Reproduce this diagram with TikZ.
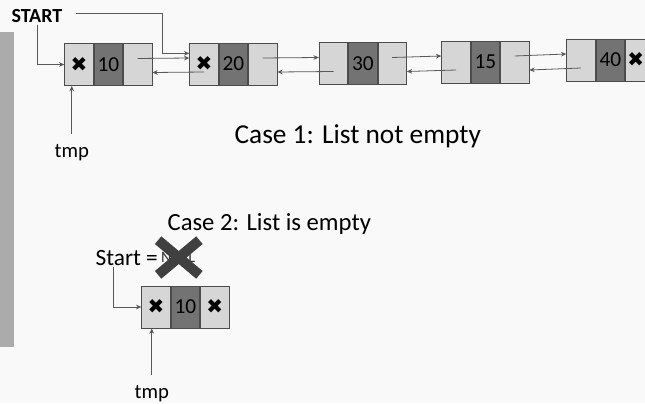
\documentclass[tikz,border=0pt]{standalone}
\usepackage{fontspec}
\setmainfont{Carlito}
\newfontfamily\symfont{DejaVu Sans}
\usetikzlibrary{arrows.meta,positioning}

\definecolor{cellLight}{gray}{0.84}
\definecolor{cellDark}{gray}{0.45}
\definecolor{lineGray}{gray}{0.35}

\newcommand{\nilmark}{{\symfont\fontsize{15pt}{15pt}\selectfont ✖}}

\begin{document}
\begin{tikzpicture}[
    x=0.75pt, y=-0.75pt,
    >={Stealth[length=4pt,width=3.5pt]},
    every node/.style={inner sep=1pt},
    cell/.style={draw=black!70, line width=0.6pt, minimum width=21.4pt,
                 minimum height=31.5pt, inner sep=0pt,
                 font=\fontsize{16pt}{16pt}\selectfont},
    lcell/.style={cell, fill=cellLight},
    dcell/.style={cell, fill=cellDark},
    link/.style={->, lineGray, line width=0.6pt},
    lbl/.style={font=\fontsize{15.5pt}{15.5pt}\selectfont}
]
\clip (0,0) rectangle (645,403);
\fill[gray!5] (0,0) rectangle (645,403);

% Gray side bar
\fill[black!33] (0,32) rectangle (14,347);

% Case 1: the list
\node[lcell] (n1a) at (79,64.5) {\nilmark};
\node[dcell, right=0pt of n1a] (n1b) {10};
\node[lcell, right=0pt of n1b] (n1c) {};

\node[lcell] (n2a) at (204,64) {\nilmark};
\node[dcell, right=0pt of n2a] (n2b) {20};
\node[lcell, right=0pt of n2b] (n2c) {};

\node[lcell] (n3a) at (333.5,63.5) {};
\node[dcell, right=0pt of n3a] (n3b) {30};
\node[lcell, right=0pt of n3b] (n3c) {};

\node[lcell] (n4a) at (456,62) {};
\node[dcell, right=0pt of n4a] (n4b) {15};
\node[lcell, right=0pt of n4b] (n4c) {};

\node[lcell] (n5a) at (581,60) {};
\node[dcell, right=0pt of n5a] (n5b) {40};
\node[lcell, right=0pt of n5b] (n5c) {\nilmark\kern6pt};

% next / prev links
\draw[link] ([yshift=4.5pt]n1c.center) -- ([yshift=4.5pt]n2a.west);
\draw[link] ([yshift=-6pt]n2a.center) -- ([yshift=-6pt]n1c.east);
\draw[link] ([yshift=4.5pt]n2c.center) -- ([yshift=4.5pt]n3a.west);
\draw[link] ([yshift=-6pt]n3a.center) -- ([yshift=-6pt]n2c.east);
\draw[link] ([yshift=4.5pt]n3c.center) -- ([yshift=4.5pt]n4a.west);
\draw[link] ([yshift=-6pt]n4a.center) -- ([yshift=-6pt]n3c.east);
\draw[link] ([yshift=4.5pt]n4c.center) -- ([yshift=4.5pt]n5a.west);
\draw[link] ([yshift=-6pt]n5a.center) -- ([yshift=-6pt]n4c.east);

% START and tmp
\node[font=\bfseries\fontsize{15pt}{15pt}\selectfont, anchor=base west] (start) at (10,23) {START};
\draw[link] (start.south) |- (n1a.west);
\draw[link, shorten <=9pt] ([yshift=2.6pt]start.east)
    -| ([xshift=-20pt,yshift=8pt]n2a.west) -- ([yshift=8pt]n2a.west);

\node[lbl, anchor=base west] (tmp1) at (53,157) {tmp};
\draw[link, shorten <=6pt] (tmp1.north) -- (tmp1.north |- n1a.south);

\node[font=\fontsize{20.5pt}{20.5pt}\selectfont, anchor=base west] (case1) at (233,143) {Case 1: List not empty};

% Case 2: empty list
\node[font=\fontsize{18.5pt}{18.5pt}\selectfont, anchor=base west] (case2) at (166,230) {Case 2: List is empty};

\node[font=\fontsize{17.5pt}{17.5pt}\selectfont, anchor=base west] (start2) at (94,265) {Start =};
\node[font=\fontsize{12pt}{12pt}\selectfont, text=black!80, right=0pt of start2] (nul) {NULL};
\draw[black!75, line width=7.5pt]
    ([xshift=-15pt,yshift=13pt]nul.center) -- ([xshift=16pt,yshift=-13pt]nul.center)
    ([xshift=-15pt,yshift=-13pt]nul.center) -- ([xshift=16pt,yshift=13pt]nul.center);

\node[lcell] (m1a) at (156,307) {\nilmark};
\node[dcell, right=0pt of m1a] (m1b) {10};
\node[lcell, right=0pt of m1b] (m1c) {\nilmark};

\draw[link] ([xshift=-10pt]start2.south) |- (m1a.west);

\node[lbl, anchor=base west] (tmp2) at (133,398) {tmp};
\draw[link, shorten <=6pt] (tmp2.north) -- (tmp2.north |- m1a.south);

\end{tikzpicture}
\end{document}
